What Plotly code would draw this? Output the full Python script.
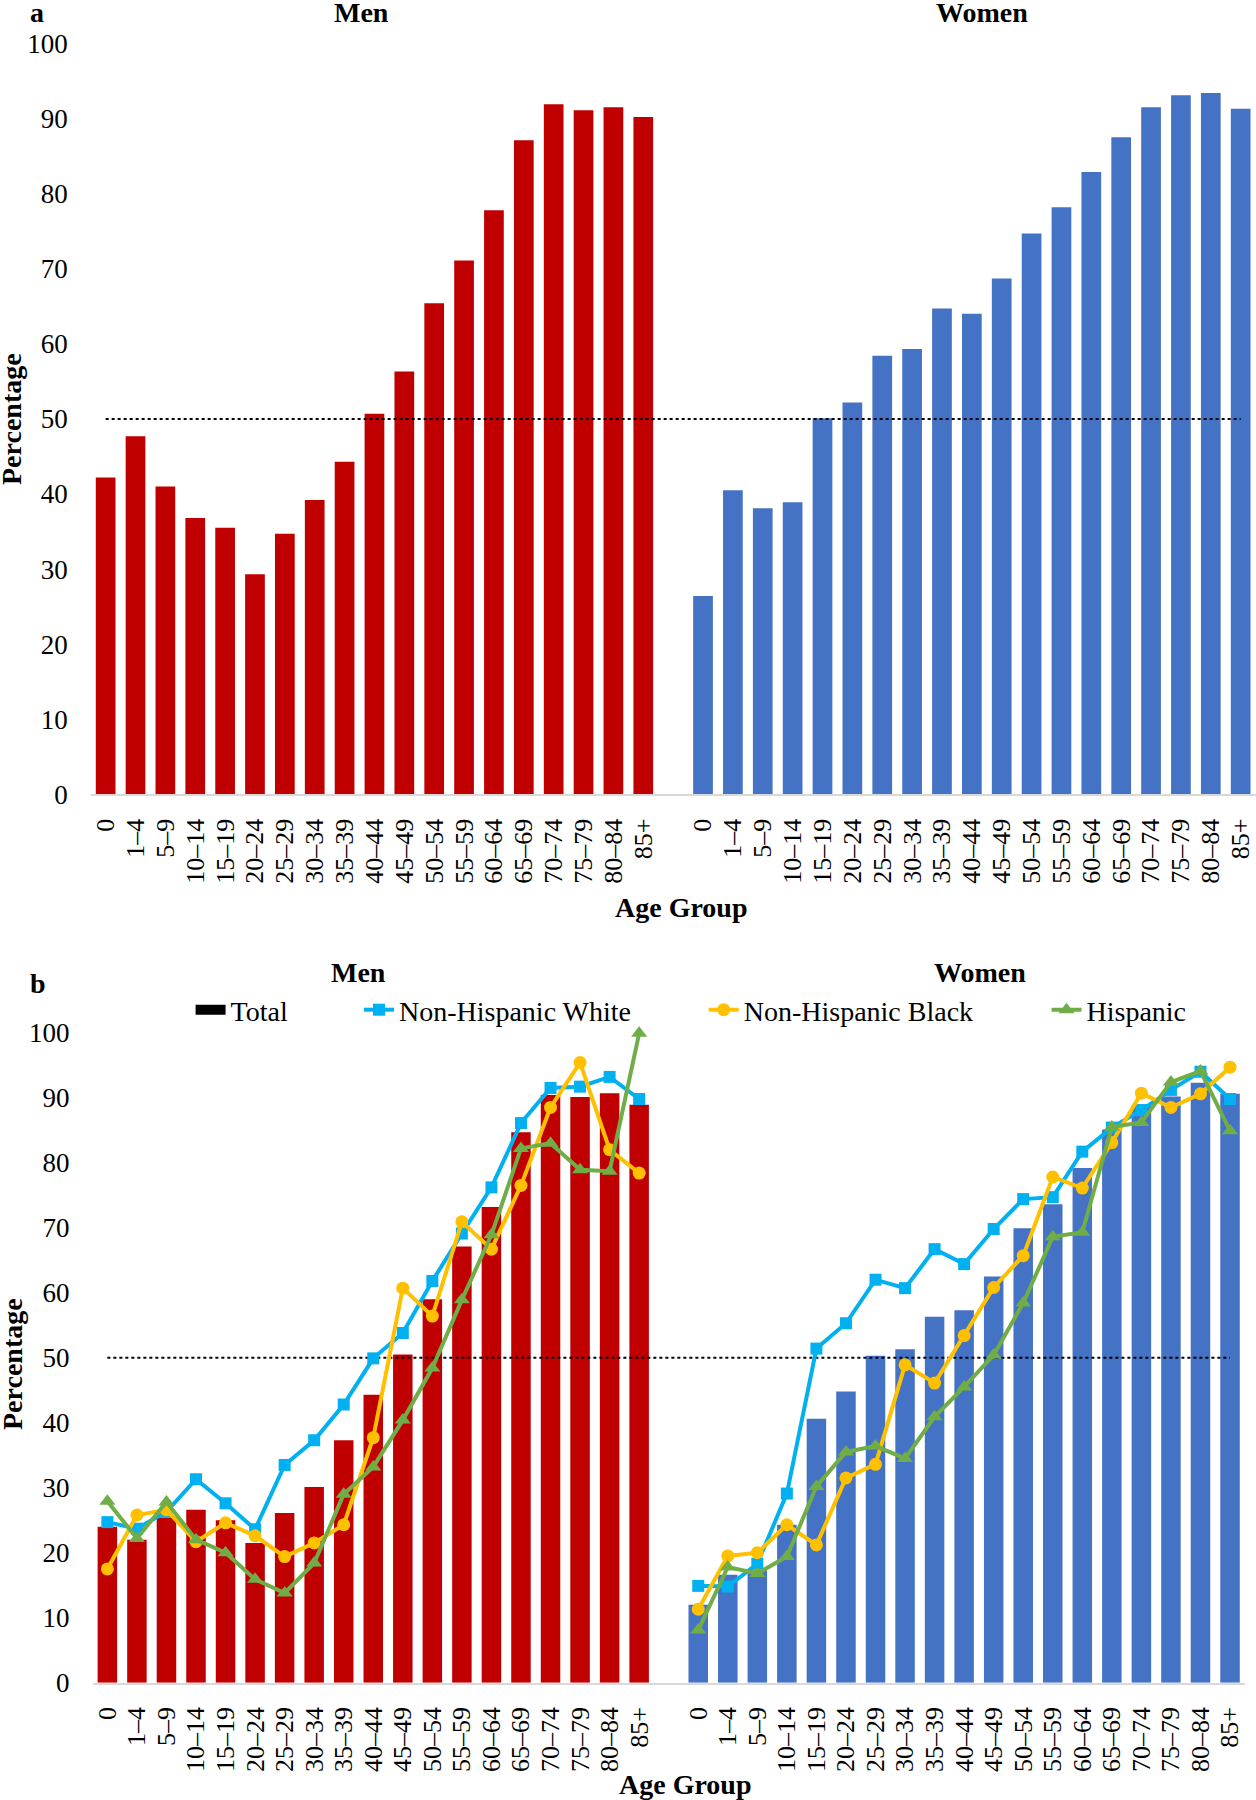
import plotly.graph_objects as go

# ---------------- data ----------------
age_groups = ["0", "1–4", "5–9", "10–14", "15–19", "20–24", "25–29", "30–34", "35–39",
              "40–44", "45–49", "50–54", "55–59", "60–64", "65–69", "70–74", "75–79",
              "80–84", "85+"]

a_men = [42.2, 47.7, 41.0, 36.8, 35.5, 29.3, 34.7, 39.2, 44.3, 50.7, 56.3, 65.4, 71.1,
         77.8, 87.1, 91.9, 91.1, 91.5, 90.2]
a_women = [26.4, 40.5, 38.1, 38.9, 50.1, 52.2, 58.4, 59.3, 64.7, 64.0, 68.7, 74.7, 78.2,
           82.9, 87.5, 91.5, 93.1, 93.4, 91.3]

b_men_total = [24.0, 22.0, 25.4, 26.6, 25.0, 21.5, 26.1, 30.1, 37.3, 44.3, 50.5, 59.0,
               67.1, 73.2, 84.7, 90.4, 90.1, 90.7, 88.9]
b_men_nhw = [24.7, 23.7, 26.3, 31.3, 27.6, 23.6, 33.5, 37.3, 42.8, 49.9, 53.8, 61.8,
             69.1, 76.2, 86.1, 91.5, 91.7, 93.2, 89.8]
b_men_nhb = [17.5, 25.8, 26.6, 21.7, 24.6, 22.6, 19.4, 21.5, 24.3, 37.7, 60.7, 56.4,
             70.9, 66.7, 76.5, 88.5, 95.4, 82.0, 78.4]
b_men_hisp = [27.9, 22.2, 27.8, 22.0, 20.0, 15.9, 13.8, 18.4, 29.0, 33.2, 40.4, 48.4,
              58.9, 68.9, 82.2, 83.0, 78.9, 78.7, 99.9]

b_women_total = [12.0, 16.6, 17.3, 24.3, 40.6, 44.8, 50.3, 51.3, 56.3, 57.3, 62.5, 69.9,
                 73.6, 79.2, 85.1, 88.8, 90.2, 92.3, 90.6]
b_women_nhw = [14.9, 14.8, 18.3, 29.1, 51.4, 55.3, 62.0, 60.7, 66.7, 64.4, 69.8, 74.4,
               74.7, 81.7, 85.4, 88.1, 91.2, 94.0, 89.8]
b_women_nhb = [11.3, 19.5, 20.0, 24.3, 21.2, 31.5, 33.6, 48.9, 46.1, 53.4, 60.8, 65.7,
               77.8, 76.1, 83.1, 90.7, 88.5, 90.6, 94.7]
b_women_hisp = [8.1, 17.8, 16.8, 19.4, 30.2, 35.5, 36.4, 34.5, 40.9, 45.5, 50.4, 58.4,
                68.6, 69.3, 85.5, 86.2, 92.4, 94.1, 84.9]

threshold = 50
y_ticks = list(range(0, 101, 10))

# ---------------- styles ----------------
RED = "#C00000"
BLUE = "#4472C4"
C_NHW = "#00B0F0"
C_NHB = "#FFC000"
C_HISP = "#70AD47"
FONT = "Liberation Serif, Times New Roman, serif"
W, H = 1256, 1800


def fx(p):
    return p / W


def fy(p):
    return 1 - p / H


n = len(age_groups)
x_men = list(range(n))
x_women = [i + n + 1 for i in range(n)]
tickvals = x_men + x_women
ticktext = age_groups + age_groups

fig = go.Figure()

# ---------- panel a ----------
fig.add_trace(go.Bar(x=x_men, y=a_men, marker_color=RED, width=0.66,
                     xaxis="x", yaxis="y", showlegend=False))
fig.add_trace(go.Bar(x=x_women, y=a_women, marker_color=BLUE, width=0.66,
                     xaxis="x", yaxis="y", showlegend=False))
fig.add_trace(go.Scatter(x=[x_men[0], x_women[-1]], y=[threshold, threshold], mode="lines",
                         line=dict(color="black", width=2, dash="dot"),
                         xaxis="x", yaxis="y", showlegend=False))

# ---------- panel b ----------
fig.add_trace(go.Bar(x=x_men, y=b_men_total, marker_color=RED, width=0.66,
                     xaxis="x2", yaxis="y2", showlegend=False))
fig.add_trace(go.Bar(x=x_women, y=b_women_total, marker_color=BLUE, width=0.66,
                     xaxis="x2", yaxis="y2", showlegend=False))
fig.add_trace(go.Scatter(x=[x_men[0], x_women[-1]], y=[threshold, threshold], mode="lines",
                         line=dict(color="black", width=2, dash="dot"),
                         xaxis="x2", yaxis="y2", showlegend=False))

# legend-only entry for Total
fig.add_trace(go.Scatter(x=[None], y=[None], mode="lines", name="Total",
                         line=dict(color="black", width=13),
                         xaxis="x2", yaxis="y2", legend="legend"))

series = [
    ("Non-Hispanic White", b_men_nhw, b_women_nhw, C_NHW, "square", 12, "legend2"),
    ("Non-Hispanic Black", b_men_nhb, b_women_nhb, C_NHB, "circle", 13, "legend3"),
    ("Hispanic", b_men_hisp, b_women_hisp, C_HISP, "triangle-up", 14, "legend4"),
]
for name, ym, yw, col, sym, sz, leg in series:
    for xs, ys, show in ((x_men, ym, True), (x_women, yw, False)):
        fig.add_trace(go.Scatter(x=xs, y=ys, mode="lines+markers", name=name,
                                 line=dict(color=col, width=4),
                                 marker=dict(color=col, symbol=sym, size=sz),
                                 cliponaxis=False, xaxis="x2", yaxis="y2",
                                 showlegend=show, legend=leg))

# ---------- axes ----------
xcommon = dict(range=[-0.5, 2 * n + 0.5], tickmode="array", tickvals=tickvals,
               ticktext=ticktext, tickangle=-90, ticks="", showgrid=False,
               zeroline=False, showline=True, linecolor="#d9d9d9", linewidth=2,
               tickfont=dict(family=FONT, size=26, color="black"),
               ticklabelstandoff=12, automargin=False, fixedrange=True)
ycommon = dict(range=[0, 100], tickmode="array", tickvals=y_ticks, ticks="",
               showgrid=False, zeroline=False, showline=False,
               tickfont=dict(family=FONT, size=27, color="black"),
               ticklabelstandoff=22, automargin=False, fixedrange=True)

fig.update_layout(
    xaxis=dict(domain=[fx(90.7), fx(1255.6)], anchor="y", **xcommon),
    yaxis=dict(domain=[fy(794.3), fy(43.5)], anchor="x", **ycommon),
    xaxis2=dict(domain=[fx(92.6), fx(1244.8)], anchor="y2", **xcommon),
    yaxis2=dict(domain=[fy(1682.7), fy(1032.7)], anchor="x2", **ycommon),
)

legcommon = dict(orientation="h", yanchor="middle", xanchor="left",
                 bgcolor="rgba(0,0,0,0)", borderwidth=0,
                 font=dict(family=FONT, size=28, color="black"))
fig.update_layout(
    legend=dict(x=fx(190.6), y=fy(1010), **legcommon),
    legend2=dict(x=fx(359), y=fy(1010), **legcommon),
    legend3=dict(x=fx(703.7), y=fy(1010), **legcommon),
    legend4=dict(x=fx(1046.5), y=fy(1010), **legcommon),
)

# ---------- text annotations ----------
def ann(text, x, y, size=28, angle=0):
    fig.add_annotation(text=text, x=fx(x), y=fy(y), xref="paper", yref="paper",
                       showarrow=False, textangle=angle, xanchor="center",
                       yanchor="middle",
                       font=dict(family=FONT, size=size, color="black"))


ann("<b>a</b>", 37, 12)
ann("<b>Men</b>", 361, 12)
ann("<b>Women</b>", 982, 12)
ann("<b>Percentage</b>", 12, 419, angle=-90)
ann("<b>Age Group</b>", 681, 907)

ann("<b>b</b>", 38, 984)
ann("<b>Men</b>", 358, 972)
ann("<b>Women</b>", 980, 972)
ann("<b>Percentage</b>", 12, 1364, angle=-90)
ann("<b>Age Group</b>", 685, 1784)

fig.update_layout(
    template="none",
    width=W, height=H, autosize=False,
    margin=dict(l=0, r=0, t=0, b=0),
    paper_bgcolor="white", plot_bgcolor="white",
    barmode="overlay",
    font=dict(family=FONT, color="black"),
)

fig.write_html("out.html", config={"displayModeBar": False},
               post_script="document.body.style.margin='0px';document.body.style.padding='0px';")
